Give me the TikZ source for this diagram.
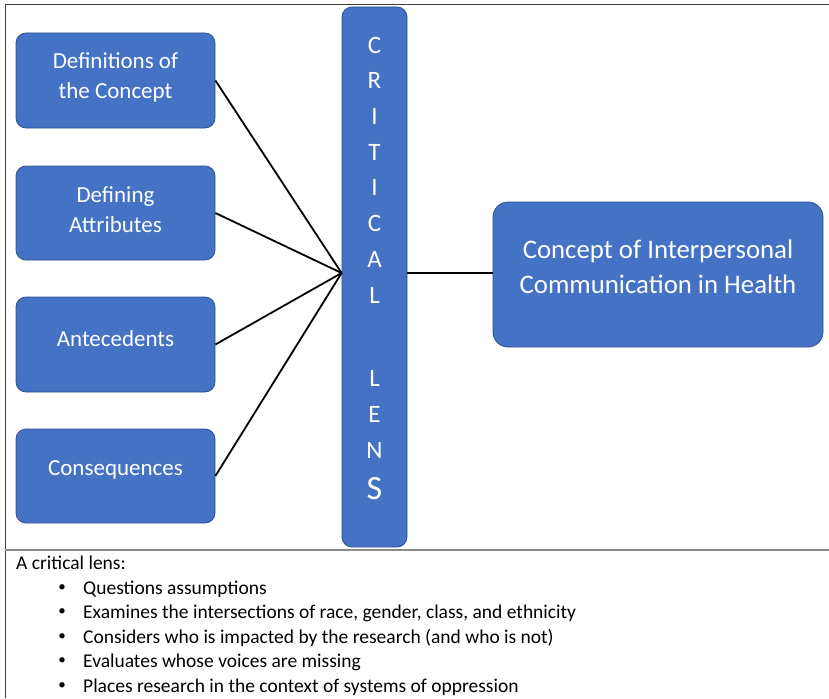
\documentclass[tikz,border=0pt]{standalone}
\usepackage{fontspec}
\setmainfont{Carlito}
\definecolor{boxblue}{HTML}{4472C4}
\definecolor{boxedge}{HTML}{2F528F}
\begin{document}
\begin{tikzpicture}[x=1pt,y=-1pt,
  bluebox/.style={draw=boxedge, line width=0.8pt, fill=boxblue, rounded corners=10pt, inner sep=0pt},
  boxlabel/.style={text=white, align=center, inner sep=0pt, font=\fontsize{23}{30}\selectfont},
  conn/.style={line width=1.8pt, black},
  lensletter/.style={text=white, inner sep=0pt, font=\fontsize{25}{25}\selectfont},
  listtext/.style={anchor=base west, inner sep=0pt, font=\fontsize{19.5}{24}\selectfont}]
\useasboundingbox (0,0) rectangle (829,698);
% frame
\draw[line width=1pt, black!75] (5,698) -- (5,5) -- (829,5);
\draw[line width=1.3pt, black!45] (5,550) -- (829,550);
% left boxes
\node[bluebox, minimum width=199pt, minimum height=95pt] (def) at (115.5,80.5) {};
\node[bluebox, minimum width=199pt, minimum height=94pt] (attr) at (115.5,213) {};
\node[bluebox, minimum width=199pt, minimum height=95pt] (ante) at (115.5,344.5) {};
\node[bluebox, minimum width=199pt, minimum height=94pt] (cons) at (115.5,476) {};
\node[boxlabel] (deft) at ([yshift=3pt]def.center) {Definitions of\\the Concept};
\node[boxlabel] (attrt) at ([yshift=3pt]attr.center) {Defining\\Attributes};
\node[boxlabel] (antet) at ([yshift=6pt]ante.center) {Antecedents};
\node[boxlabel] (const) at ([yshift=6pt]cons.center) {Consequences};
% lens
\node[bluebox, minimum width=65pt, minimum height=540pt] (lens) at (374.5,277) {};
\foreach \ch/\yy [count=\i] in {C/45,R/80.7,I/116.4,T/152.1,I/187.8,C/223.5,A/259.2,L/295,L/378,E/414,N/450}
  \node[lensletter] (ltr\i) at (374.5,\yy) {\ch};
\node[lensletter, font=\fontsize{34}{34}\selectfont] (ltr12) at (374.5,489) {S};
% concept box
\node[bluebox, rounded corners=15pt, minimum width=330pt, minimum height=145pt] (concept) at (658,274.5) {};
\node[boxlabel, font=\fontsize{26.8}{35}\selectfont] (conceptt) at ([yshift=8pt]concept.center) {Concept of Interpersonal\\Communication in Health};
% connectors
\coordinate (conv) at (lens.west |- 0,273);
\coordinate (convr) at (lens.east |- 0,273);
\draw[conn] (def.east) -- (conv);
\draw[conn] (attr.east) -- (conv);
\draw[conn] (ante.east) -- (conv);
\draw[conn] (cons.east) -- (conv);
\draw[conn] (convr) -- (concept.west |- convr);
% list
\node[listtext] (head) at (16,569) {A critical lens:};
\foreach \txt/\yy [count=\i] in {Questions assumptions/594,
  {Examines the intersections of race, gender, class, and ethnicity}/618,
  {Considers who is impacted by the research (and who is not)}/643,
  Evaluates whose voices are missing/667,
  Places research in the context of systems of oppression/692}{
  \node[listtext] (item\i) at (83,\yy) {\txt};
  \node[listtext, anchor=center] (bul\i) at (62,\yy-6) {\fontsize{15}{15}\selectfont •};
}
\end{tikzpicture}
\end{document}
